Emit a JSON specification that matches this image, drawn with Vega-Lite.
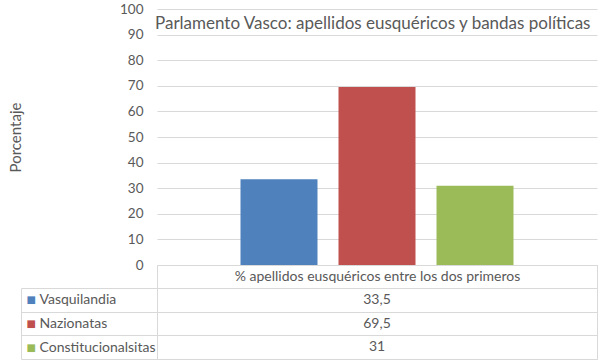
{
  "$schema": "https://vega.github.io/schema/vega-lite/v6.json",
  "padding": {"left": 8, "top": 2, "right": 2, "bottom": 1},
  "spacing": 23,
  "bounds": "flush",
  "config": {
    "font": "Lato",
    "locale": {"number": {"decimal": ",", "thousands": ".", "grouping": [3], "currency": ["", " €"]}},
    "view": {"stroke": null},
    "axis": {"labelColor": "#595959", "titleColor": "#595959", "labelFont": "Lato", "titleFont": "Lato", "gridColor": "#d9d9d9", "domainColor": "#d9d9d9", "tickColor": "#d9d9d9", "titleFontWeight": "normal"}
  },
  "datasets": {
    "bandas": [
      {"categoria": "% apellidos eusquéricos entre los dos primeros", "banda": "Vasquilandia", "porcentaje": 33.5},
      {"categoria": "% apellidos eusquéricos entre los dos primeros", "banda": "Nazionatas", "porcentaje": 69.5},
      {"categoria": "% apellidos eusquéricos entre los dos primeros", "banda": "Constitucionalsitas", "porcentaje": 31}
    ]
  },
  "vconcat": [
    {
      "width": 440,
      "height": 256,
      "data": {"name": "bandas"},
      "title": {"text": "Parlamento Vasco: apellidos eusquéricos y bandas políticas", "anchor": "start", "frame": "group", "offset": -31, "dx": -2, "fontSize": 17, "fontWeight": "normal", "color": "#595959", "font": "Lato"},
      "mark": {"type": "bar"},
      "encoding": {
        "x": {"field": "categoria", "type": "nominal", "scale": {"paddingInner": 0, "paddingOuter": 0},
              "axis": {"title": null, "labelAngle": 0, "labelLimit": 0, "tickBand": "extent", "tickSize": 23, "labelPadding": -19, "labelFontSize": 14}},
        "xOffset": {"field": "banda", "type": "nominal", "sort": ["Vasquilandia", "Nazionatas", "Constitucionalsitas"],
                    "scale": {"paddingInner": 0.2143, "paddingOuter": 0.852}},
        "y": {"field": "porcentaje", "type": "quantitative", "scale": {"domain": [0, 100]},
              "axis": {"title": "Porcentaje", "values": [0, 10, 20, 30, 40, 50, 60, 70, 80, 90, 100], "domain": false, "ticks": false, "labelPadding": 14, "labelFontSize": 13.5, "titleFontSize": 15, "titlePadding": 96}},
        "color": {"field": "banda", "type": "nominal",
                  "scale": {"domain": ["Vasquilandia", "Nazionatas", "Constitucionalsitas"], "range": ["#4F81BD", "#C0504D", "#9BBB59"]},
                  "legend": null}
      }
    },
    {
      "width": 440,
      "height": 71,
      "view": {"stroke": "#d9d9d9"},
      "data": {"name": "bandas"},
      "layer": [
        {
          "mark": {"type": "text", "fontSize": 14, "color": "#595959"},
          "encoding": {
            "y": {"field": "banda", "type": "nominal", "sort": ["Vasquilandia", "Nazionatas", "Constitucionalsitas"],
                  "scale": {"paddingInner": 0, "paddingOuter": 0},
                  "axis": {"title": null, "orient": "left", "domain": false, "grid": true, "tickBand": "extent", "tickSize": 136, "labelAlign": "left", "labelPadding": -18, "labelFontSize": 14, "labelLimit": 0}},
            "text": {"field": "porcentaje", "type": "quantitative", "format": ".1~f"}
          }
        },
        {
          "mark": {"type": "text", "opacity": 0},
          "encoding": {
            "y": {"field": "banda", "type": "nominal", "sort": ["Vasquilandia", "Nazionatas", "Constitucionalsitas"],
                  "scale": {"paddingInner": 0, "paddingOuter": 0},
                  "axis": {"title": null, "orient": "left", "domain": false, "ticks": false, "grid": false, "labelExpr": "'■'", "labelAlign": "left", "labelPadding": 131, "labelFont": "DejaVu Sans", "labelFontSize": 10,
                           "labelColor": {"condition": [{"test": "datum.value === 'Vasquilandia'", "value": "#4F81BD"}, {"test": "datum.value === 'Nazionatas'", "value": "#C0504D"}], "value": "#9BBB59"}}},
            "text": {"field": "porcentaje", "type": "quantitative"}
          }
        },
        {
          "mark": {"type": "text", "opacity": 0},
          "encoding": {
            "y": {"field": "banda", "type": "nominal", "sort": ["Vasquilandia", "Nazionatas", "Constitucionalsitas"],
                  "scale": {"paddingInner": 0, "paddingOuter": 0},
                  "axis": {"title": null, "orient": "left", "offset": 136, "domain": true, "ticks": false, "labels": false, "grid": false}},
            "text": {"field": "porcentaje", "type": "quantitative"}
          }
        }
      ],
      "resolve": {"scale": {"y": "independent"}, "axis": {"y": "independent"}}
    }
  ]
}
